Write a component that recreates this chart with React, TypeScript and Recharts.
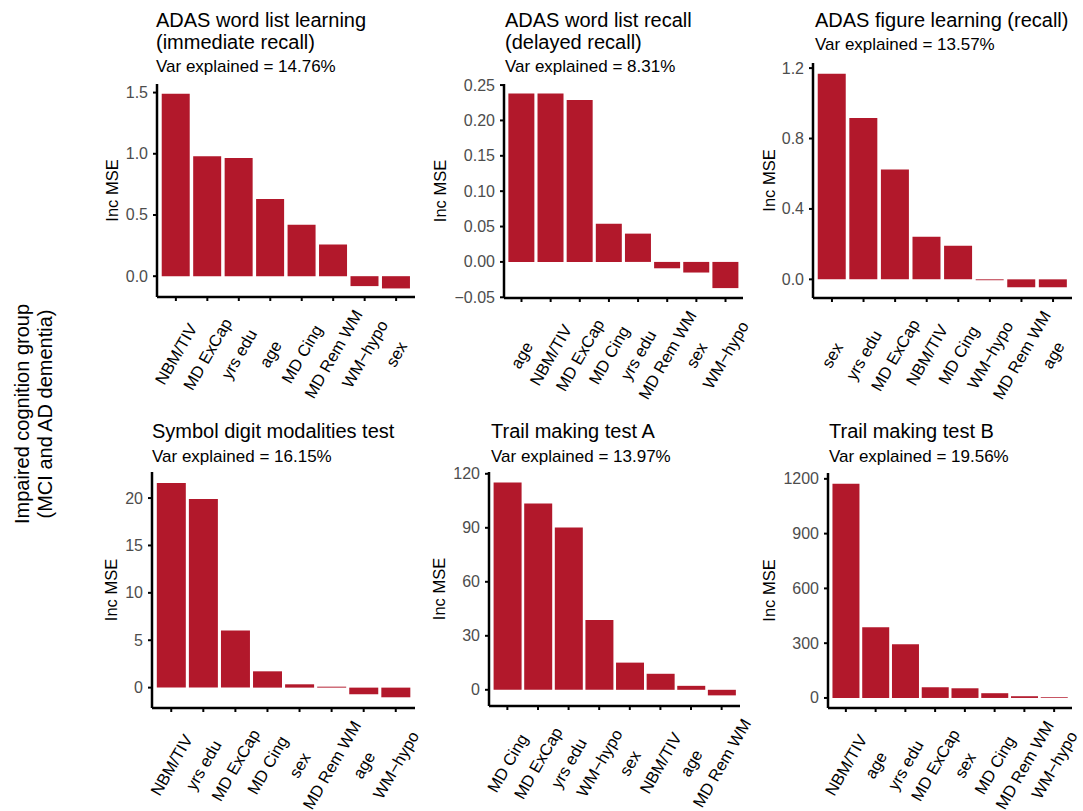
import React from "react";
import { BarChart, Bar, XAxis, YAxis } from "recharts";

const FONT = '"Liberation Sans", Arial, Helvetica, sans-serif';
const BAR_COLOR = "#B2182B";

// Panel 1
const p1Labels = ["NBM/TIV", "MD ExCap", "yrs edu", "age", "MD Cing", "MD Rem WM", "WM−hypo", "sex"];
const p1Values = [1.49, 0.98, 0.966, 0.63, 0.42, 0.258, -0.081, -0.1];
const p1Ticks = [0, 0.5, 1.0, 1.5];
// Panel 2
const p2Labels = ["age", "NBM/TIV", "MD ExCap", "MD Cing", "yrs edu", "MD Rem WM", "sex", "WM−hypo"];
const p2Values = [0.238, 0.238, 0.229, 0.054, 0.04, -0.009, -0.015, -0.037];
const p2Ticks = [-0.05, 0, 0.05, 0.1, 0.15, 0.2, 0.25];
// Panel 3
const p3Labels = ["sex", "yrs edu", "MD ExCap", "NBM/TIV", "MD Cing", "WM−hypo", "MD Rem WM", "age"];
const p3Values = [1.168, 0.917, 0.624, 0.242, 0.191, -0.005, -0.045, -0.045];
const p3Ticks = [0, 0.4, 0.8, 1.2];
// Panel 4
const p4Labels = ["NBM/TIV", "yrs edu", "MD ExCap", "MD Cing", "sex", "MD Rem WM", "age", "WM−hypo"];
const p4Values = [21.6, 19.9, 6.03, 1.72, 0.35, 0.1, -0.7, -1.02];
const p4Ticks = [0, 5, 10, 15, 20];
// Panel 5
const p5Labels = ["MD Cing", "MD ExCap", "yrs edu", "WM−hypo", "sex", "NBM/TIV", "age", "MD Rem WM"];
const p5Values = [115.2, 103.5, 90.2, 38.8, 15.1, 8.9, 2.2, -3.1];
const p5Ticks = [0, 30, 60, 90, 120];
// Panel 6
const p6Labels = ["NBM/TIV", "age", "yrs edu", "MD ExCap", "sex", "MD Cing", "MD Rem WM", "WM−hypo"];
const p6Values = [1173, 387, 294, 58.6, 53, 26, 9.5, 4];
const p6Ticks = [0, 300, 600, 900, 1200];

const titles = [
  ["ADAS word list learning", "(immediate recall)"],
  ["ADAS word list recall", "(delayed recall)"],
  ["ADAS figure learning (recall)"],
  ["Symbol digit modalities test"],
  ["Trail making test A"],
  ["Trail making test B"],
];
const varExplained = ["14.76%", "8.31%", "13.57%", "16.15%", "13.97%", "19.56%"];

const fmt = (d: number) => (v: number) => Number(v).toFixed(d).replace("-", "−");

type PanelDef = {
  labels: string[];
  values: number[];
  ticks: number[];
  domain: [number, number];
  decimals: number;
  left: number;
  right: number;
  top: number;
  bottom: number;
  titleX: number;
  titleY: number[];
  varY: number;
  ylabX: number;
};

const panels: PanelDef[] = [
  { labels: p1Labels, values: p1Values, ticks: p1Ticks, domain: [-0.17, 1.57], decimals: 1, left: 157, right: 415, top: 84, bottom: 297, titleX: 156, titleY: [27, 49], varY: 72, ylabX: 118 },
  { labels: p2Labels, values: p2Values, ticks: p2Ticks, domain: [-0.051, 0.2515], decimals: 2, left: 504, right: 743, top: 84, bottom: 298, titleX: 505, titleY: [27, 49], varY: 72, ylabX: 446 },
  { labels: p3Labels, values: p3Values, ticks: p3Ticks, domain: [-0.106, 1.229], decimals: 1, left: 813, right: 1072, top: 63, bottom: 298, titleX: 815, titleY: [27], varY: 50, ylabX: 775 },
  { labels: p4Labels, values: p4Values, ticks: p4Ticks, domain: [-2.15, 22.75], decimals: 0, left: 152, right: 415, top: 472, bottom: 708, titleX: 152, titleY: [438], varY: 462, ylabX: 117 },
  { labels: p5Labels, values: p5Values, ticks: p5Ticks, domain: [-9, 121], decimals: 0, left: 489, right: 740, top: 472, bottom: 706, titleX: 491, titleY: [438], varY: 462, ylabX: 445 },
  { labels: p6Labels, values: p6Values, ticks: p6Ticks, domain: [-55, 1232], decimals: 0, left: 828, right: 1072, top: 473, bottom: 708, titleX: 829, titleY: [438], varY: 462, ylabX: 775 },
];

const XTick = (props: any) => {
  const { x, y, payload } = props;
  const cy = y + 53;
  return (
    <text
      x={x}
      y={cy}
      transform={`rotate(-60, ${x}, ${cy})`}
      textAnchor="middle"
      dominantBaseline="central"
      fontSize={16.5}
      fill="#000"
      fontFamily={FONT}
    >
      {payload.value}
    </text>
  );
};

const makeYTick = (d: number) => (props: any) => {
  const { x, y, payload } = props;
  return (
    <text
      x={x}
      y={y}
      textAnchor="end"
      dominantBaseline="central"
      fontSize={16}
      fill="#4d4d4d"
      fontFamily={FONT}
    >
      {fmt(d)(payload.value)}
    </text>
  );
};

const Panel = ({ p }: { p: PanelDef }) => {
  const W = p.right - p.left;
  const H = p.bottom - p.top;
  const band = W / 8.2;
  const pad = band * 0.1;
  const rows = p.labels.map((name, i) => ({ name, value: p.values[i] }));
  const YTick = makeYTick(p.decimals);
  return (
    <div style={{ position: "absolute", left: p.left - 100, top: p.top - 10 }}>
      <BarChart
        width={W + 140}
        height={H + 120}
        data={rows}
        margin={{ top: 10, right: 40, left: 0, bottom: 0 }}
        barCategoryGap="5%"
        style={{ overflow: "visible" }}
      >
        <XAxis
          dataKey="name"
          type="category"
          interval={0}
          height={110}
          padding={{ left: pad, right: pad }}
          axisLine={{ stroke: "#000", strokeWidth: 2.5 }}
          tickLine={{ stroke: "#000", strokeWidth: 2 }}
          tickSize={4}
          tickMargin={0}
          tick={<XTick />}
        />
        <YAxis
          type="number"
          width={100}
          domain={p.domain}
          allowDataOverflow
          ticks={p.ticks}
          interval={0}
          axisLine={{ stroke: "#000", strokeWidth: 2.5 }}
          tickLine={{ stroke: "#000", strokeWidth: 2 }}
          tickSize={4}
          tickMargin={5}
          tick={<YTick />}
        />
        <Bar dataKey="value" fill={BAR_COLOR} isAnimationActive={false} />
      </BarChart>
    </div>
  );
};

export default function App() {
  return (
    <div
      style={{
        position: "absolute",
        left: 0,
        top: 0,
        width: 1083,
        height: 811,
        background: "#fff",
        overflow: "hidden",
        fontFamily: FONT,
      }}
    >
      {panels.map((p, i) => (
        <Panel key={i} p={p} />
      ))}
      <svg
        width={1083}
        height={811}
        style={{ position: "absolute", left: 0, top: 0, pointerEvents: "none" }}
      >
        <g fontFamily={FONT}>
          <text
            transform="translate(29, 414) rotate(-90)"
            textAnchor="middle"
            fontSize={20}
            fill="#000"
          >
            Impaired cognition group
          </text>
          <text
            transform="translate(52, 414) rotate(-90)"
            textAnchor="middle"
            fontSize={20}
            fill="#000"
          >
            (MCI and AD dementia)
          </text>
          {panels.map((p, i) => (
            <g key={i}>
              {titles[i].map((t, j) => (
                <text key={j} x={p.titleX} y={p.titleY[j]} fontSize={20} fill="#000">
                  {t}
                </text>
              ))}
              <text x={p.titleX} y={p.varY} fontSize={17} fill="#000">
                {`Var explained = ${varExplained[i]}`}
              </text>
              <text
                transform={`translate(${p.ylabX}, ${(p.top + p.bottom) / 2}) rotate(-90)`}
                textAnchor="middle"
                fontSize={16.5}
                fill="#000"
              >
                Inc MSE
              </text>
            </g>
          ))}
        </g>
      </svg>
    </div>
  );
}
